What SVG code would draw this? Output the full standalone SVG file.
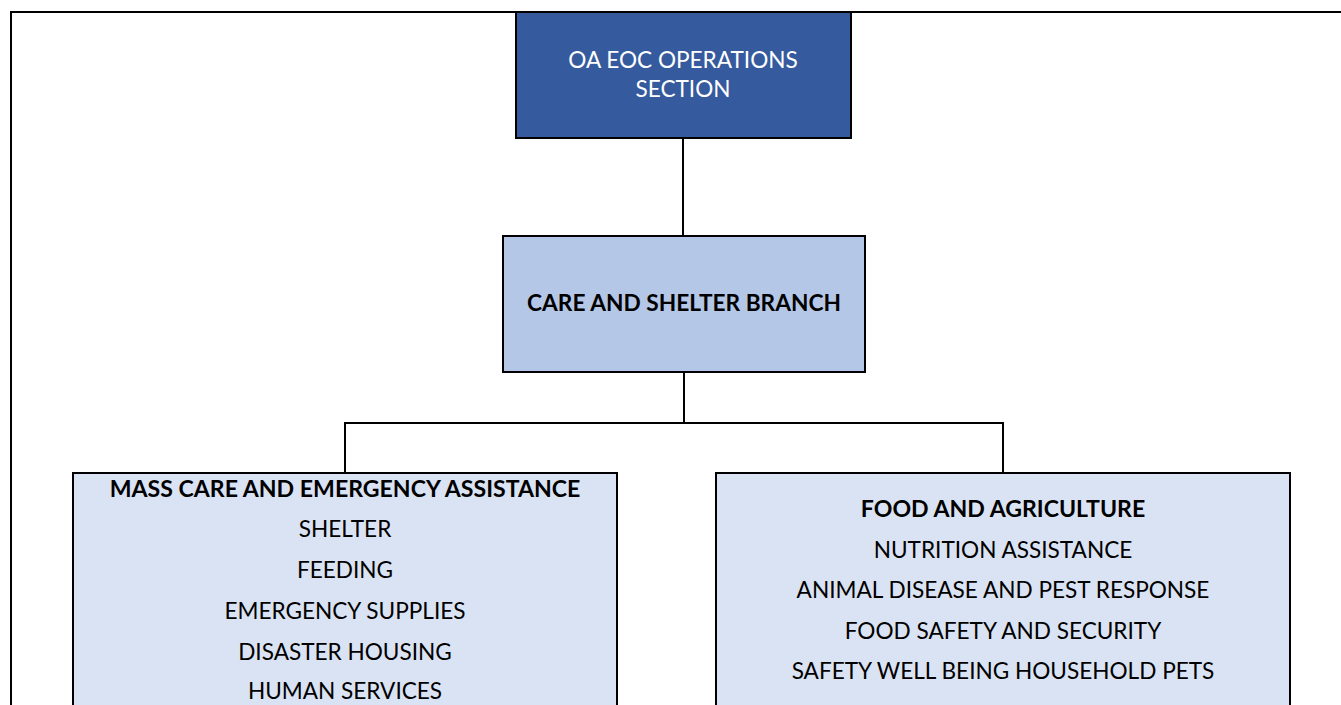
<svg xmlns="http://www.w3.org/2000/svg" width="1341" height="705" viewBox="0 0 1341 705">
  <style>
    .box { stroke: #000; stroke-width: 2; }
    .wire { fill: none; stroke: #000; stroke-width: 2; }
    text { font-family: Lato, "Liberation Sans", sans-serif; font-size: 22.6px; text-anchor: middle; fill: #000; }
    .b { font-weight: bold; font-size: 23.1px; }
    .w { fill: #fff; }
  </style>
  <rect width="1341" height="705" fill="#fff"/>
  <!-- page frame -->
  <path class="wire" d="M11,705 V12 H1341"/>

  <g id="connectors">
    <path class="wire" d="M683,138 V236"/>
    <path class="wire" d="M684,372 V423"/>
    <path class="wire" d="M345,473 V423 H1003 V473"/>
  </g>

  <g id="ops-section">
    <rect class="box" x="516" y="12" width="335" height="126" fill="#355A9E"/>
    <text class="w" x="683" y="68">OA EOC OPERATIONS</text>
    <text class="w" x="683" y="97">SECTION</text>
  </g>

  <g id="care-shelter-branch">
    <rect class="box" x="503" y="236" width="362" height="136" fill="#B4C7E7"/>
    <text class="b" x="684" y="311" style="font-size:22.7px">CARE AND SHELTER BRANCH</text>
  </g>

  <g id="mass-care">
    <rect class="box" x="73" y="473" width="544" height="240" fill="#DAE3F3"/>
    <text class="b" x="345" y="497">MASS CARE AND EMERGENCY ASSISTANCE</text>
    <text x="345" y="537">SHELTER</text>
    <text x="345" y="578">FEEDING</text>
    <text x="345" y="619">EMERGENCY SUPPLIES</text>
    <text x="345" y="660">DISASTER HOUSING</text>
    <text x="345" y="699">HUMAN SERVICES</text>
  </g>

  <g id="food-agriculture">
    <rect class="box" x="716" y="473" width="574" height="240" fill="#DAE3F3"/>
    <text class="b" x="1003" y="517">FOOD AND AGRICULTURE</text>
    <text x="1003" y="558">NUTRITION ASSISTANCE</text>
    <text x="1003" y="598">ANIMAL DISEASE AND PEST RESPONSE</text>
    <text x="1003" y="639">FOOD SAFETY AND SECURITY</text>
    <text x="1003" y="679">SAFETY WELL BEING HOUSEHOLD PETS</text>
  </g>
</svg>
